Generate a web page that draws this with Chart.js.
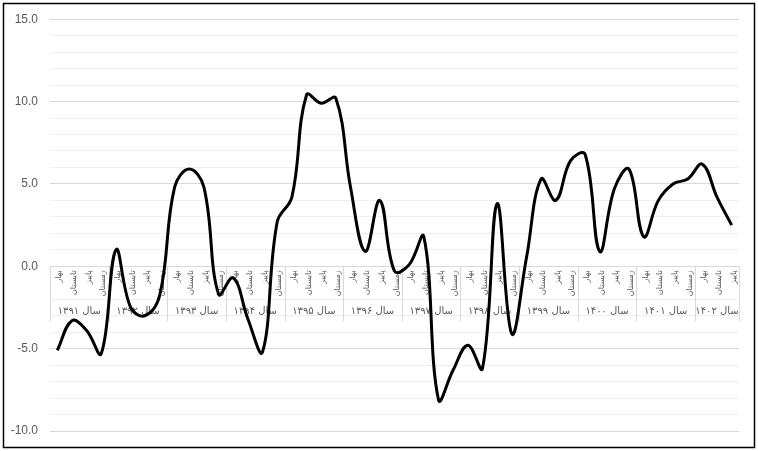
<!DOCTYPE html>
<html>
<head>
<meta charset="utf-8">
<script src="https://cdn.jsdelivr.net/npm/chart.js@4"></script>
<style>
  html, body { margin: 0; padding: 0; background: #fff; }
  #wrap { width: 758px; height: 451px; position: relative; }
</style>
</head>
<body>
<div id="wrap"><canvas id="c" width="758" height="451"></canvas></div>
<script>
const years = ["۱۳۹۱", "۱۳۹۲", "۱۳۹۳", "۱۳۹۴", "۱۳۹۵", "۱۳۹۶", "۱۳۹۷", "۱۳۹۸", "۱۳۹۹", "۱۴۰۰", "۱۴۰۱", "۱۴۰۲"];
const seasons = ["بهار", "تابستان", "پاییز", "زمستان"];
const quartersPerYear = [4, 4, 4, 4, 4, 4, 4, 4, 4, 4, 4, 3];

const values = [
    -5.1, -3.3, -3.9, -5.3,   // 1391
    1.0, -2.5, -3.0, -1.7,    // 1392
    4.8, 5.9, 4.8, -1.7,      // 1393
    -0.7, -3.2, -5.2, 2.7,    // 1394
    4.2, 10.4, 9.9, 10.2,     // 1395
    4.8, 0.9, 4.0, -0.3,      // 1396
    0.1, 1.8, -8.1, -6.3,     // 1397
    -4.8, -6.2, 3.8, -4.1,    // 1398
    0.5, 5.3, 4.0, 6.4,       // 1399
    6.8, 0.9, 4.7, 5.9,       // 1400
    1.8, 4.0, 5.0, 5.3,       // 1401
    6.2, 4.2, 2.5             // 1402
];

// labels: one per quarter, plus which year it belongs to
let labels = [], labelSeason = [];
years.forEach((y, yi) => {
    for (let q = 0; q < quartersPerYear[yi]; q++) {
        labels.push(seasons[q] + " " + y);
        labelSeason.push(seasons[q]);
    }
});

const txtColor = "#595959";
const persianFont = "'DejaVu Sans', sans-serif";

// draws the two-level category axis sitting on the zero line
const categoryAxisPlugin = {
    id: "categoryAxis",
    beforeDatasetsDraw(chart) {
        const ctx = chart.ctx;
        const xs = chart.scales.x, ys = chart.scales.y;
        const area = chart.chartArea;
        const y0 = ys.getPixelForValue(0);
        const half = (xs.getPixelForValue(1) - xs.getPixelForValue(0)) / 2;

        ctx.save();
        // cover the quarter row
        ctx.fillStyle = "#fff";
        ctx.fillRect(area.left, y0 + 1, area.right - area.left, 31);

        // quarter labels, rotated
        ctx.fillStyle = txtColor;
        ctx.font = "8px " + persianFont;
        ctx.textAlign = "right";
        ctx.textBaseline = "middle";
        for (let i = 0; i < labels.length; i++) {
            let px = xs.getPixelForValue(i) + 2;
            ctx.save();
            ctx.translate(px, y0 + 4);
            ctx.rotate(-Math.PI / 2);
            ctx.fillText(labelSeason[i], 0, 0);
            ctx.restore();
        }

        // year separators and labels
        ctx.strokeStyle = "#d9d9d9";
        ctx.lineWidth = 1;
        ctx.font = "10px " + persianFont;
        ctx.textAlign = "center";
        let start = 0;
        years.forEach((y, yi) => {
            let end = start + quartersPerYear[yi] - 1;
            let left = xs.getPixelForValue(start) - half;
            let right = xs.getPixelForValue(end) + half;
            [left, right].forEach(px => {
                let x = Math.round(px) + 0.5;
                ctx.beginPath();
                ctx.moveTo(x, y0);
                ctx.lineTo(x, y0 + 55);
                ctx.stroke();
            });
            ctx.fillText("سال " + y, (left + right) / 2, y0 + 45);
            start = end + 1;
        });
        ctx.restore();
    },
    afterDraw(chart) {
        const ctx = chart.ctx;
        ctx.save();
        ctx.strokeStyle = "#000";
        ctx.lineWidth = 1.5;
        ctx.strokeRect(3.5, 3.5, 751, 444);
        ctx.restore();
    }
};

new Chart(document.getElementById("c").getContext("2d"), {
    type: "line",
    data: {
        labels: labels,
        datasets: [{
            data: values,
            borderColor: "#000",
            borderWidth: 3,
            pointRadius: 0,
            tension: 0.4,
            fill: false
        }]
    },
    options: {
        responsive: false,
        animation: false,
        layout: {
            padding: { left: 0, top: 19, right: 19, bottom: 20 }
        },
        plugins: {
            legend: { display: false },
            tooltip: { enabled: false }
        },
        scales: {
            x: {
                type: "category",
                offset: true,
                display: false
            },
            y: {
                min: -10,
                max: 15,
                afterFit: (scale) => { scale.width = 50; },
                border: { display: false },
                grid: {
                    drawTicks: false,
                    color: (c) => (c.tick && c.tick.value % 5 === 0) ? "#d9d9d9" : "#efefef",
                    lineWidth: 1
                },
                ticks: {
                    stepSize: 1,
                    autoSkip: false,
                    padding: 12,
                    color: txtColor,
                    font: { family: "'Liberation Sans', sans-serif", size: 12 },
                    callback: (v) => v % 5 === 0 ? v.toFixed(1) : ""
                }
            }
        }
    },
    plugins: [categoryAxisPlugin]
});
</script>
</body>
</html>
